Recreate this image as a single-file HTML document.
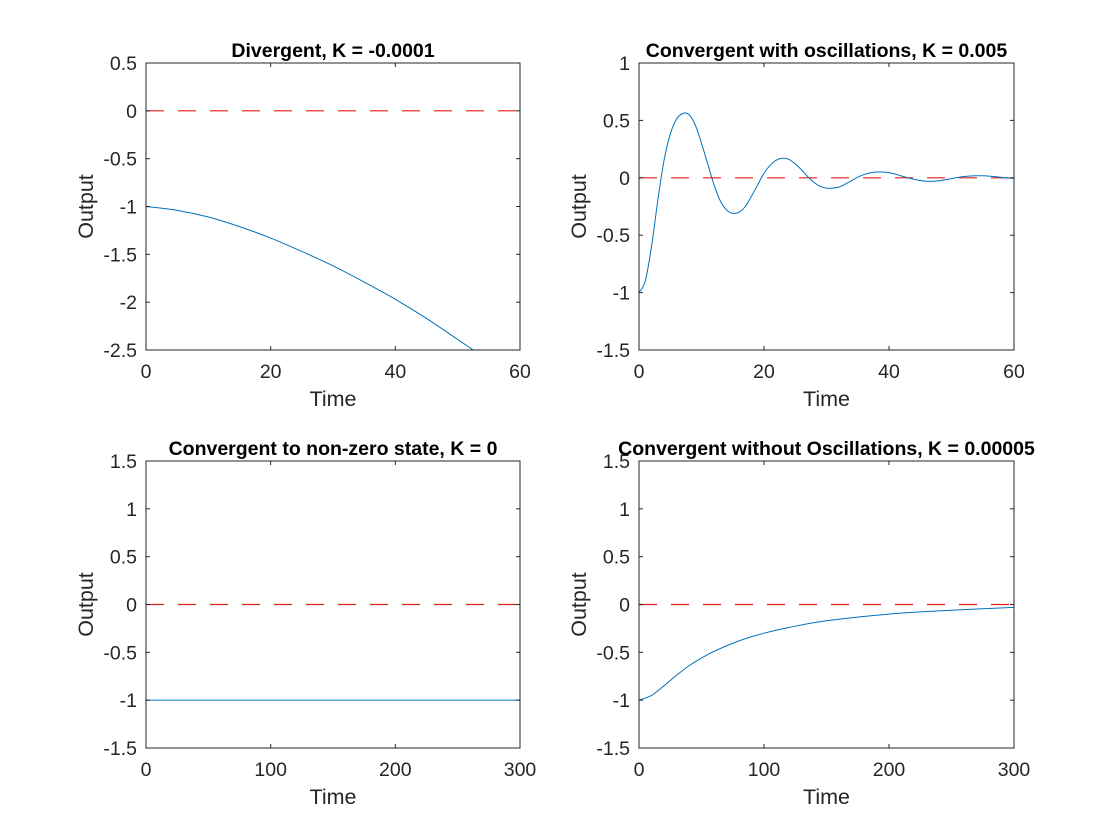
<!DOCTYPE html>
<html><head><meta charset="utf-8"><style>
html,body{margin:0;padding:0;background:#fff;}
svg{display:block;font-family:"Liberation Sans",Arial,sans-serif;}
</style></head><body>
<svg id="fig" width="1120" height="840" viewBox="0 0 1120 840" xmlns="http://www.w3.org/2000/svg"></svg>
<script>
// Panel 1: Divergent
const divT = [0,5,10,15,20,25,30,35,40,45,50,52.5];
const divY = [-1,-1.04,-1.11,-1.21,-1.33,-1.47,-1.62,-1.79,-1.97,-2.17,-2.39,-2.5];
// Panel 2: oscillations
const oscT = [0,1,2,3,4,5,6,7,8,9,10,11,12,13,14,15,16,17,18,19,20,21,22,23,24,25,26,27,28,29,30,31,32,33,34,35,36,37,38,39,40,41,42,43,44,45,46,47,48,49,50,51,52,53,54,55,56,57,58,59,60];
const oscY = [-1,-0.9,-0.6,-0.2,0.15,0.38,0.51,0.56,0.55,0.46,0.3,0.12,-0.06,-0.2,-0.28,-0.31,-0.3,-0.25,-0.16,-0.06,0.04,0.11,0.155,0.17,0.16,0.12,0.07,0.01,-0.04,-0.075,-0.09,-0.09,-0.08,-0.055,-0.025,0.005,0.028,0.043,0.05,0.05,0.045,0.032,0.016,0.001,-0.013,-0.024,-0.03,-0.03,-0.026,-0.017,-0.007,0.003,0.011,0.016,0.018,0.018,0.015,0.01,0.004,-0.002,-0.006];
// Panel 3: constant
const conT = [0,300];
const conY = [-1,-1];
// Panel 4: no oscillations
const noT = [0,10,20,30,40,50,60,80,100,120,150,200,250,300];
const noY = [-1,-0.95,-0.85,-0.74,-0.64,-0.56,-0.49,-0.38,-0.3,-0.24,-0.17,-0.1,-0.06,-0.03];

const xTicks60 = [0,20,40,60];
const xTicks300 = [0,100,200,300];
const yTicksA = [-2.5,-2,-1.5,-1,-0.5,0,0.5];
const yTicksB = [-1.5,-1,-0.5,0,0.5,1];
const yTicksC = [-1.5,-1,-0.5,0,0.5,1,1.5];

const NS="http://www.w3.org/2000/svg";
const svg=document.getElementById('fig');
function mk(tag,attrs,parent){const e=document.createElementNS(NS,tag);for(const k in attrs)e.setAttribute(k,attrs[k]);(parent||svg).appendChild(e);return e;}
function fmt(v){return String(v);}

function panel(key,box,xmin,xmax,ymin,ymax,xt,yt,title,T,Y){
  const g=mk('g',{});
  
  
  const [x0,y0,x1,y1]=box;
  const sx=v=>x0+(v-xmin)/(xmax-xmin)*(x1-x0);
  const sy=v=>y1-(v-ymin)/(ymax-ymin)*(y1-y0);
  const z=mk('line',{x1:x0,x2:x1,y1:sy(0),y2:sy(0),stroke:'#e0201b','stroke-width':1.2,'stroke-dasharray':'18 14'},g);
  
  
  let d='';
  for(let i=0;i<T.length;i++){
    const px=sx(T[i]),py=sy(Y[i]);
    if(i===0){d+='M'+px+' '+py;continue;}
    const p0=[sx(T[Math.max(0,i-2)]),sy(Y[Math.max(0,i-2)])];
    const p1=[sx(T[i-1]),sy(Y[i-1])];
    const p2=[px,py];
    const p3=[sx(T[Math.min(T.length-1,i+1)]),sy(Y[Math.min(T.length-1,i+1)])];
    const c1=[p1[0]+(p2[0]-p0[0])/6,p1[1]+(p2[1]-p0[1])/6];
    const c2=[p2[0]-(p3[0]-p1[0])/6,p2[1]-(p3[1]-p1[1])/6];
    d+=' C'+c1[0]+' '+c1[1]+' '+c2[0]+' '+c2[1]+' '+p2[0]+' '+p2[1];
  }
  const clip=mk('clipPath',{id:'c'+key},g);
  mk('rect',{x:x0,y:y0,width:x1-x0,height:y1-y0},clip);
  const s=mk('path',{d:d,fill:'none',stroke:'#0072bd','stroke-width':1,'clip-path':'url(#c'+key+')'},g);
  
  
  const r=mk('rect',{x:x0,y:y0,width:x1-x0,height:y1-y0,fill:'none',stroke:'#262626','stroke-width':1},g);
  
  
  xt.forEach(v=>{
    const x=sx(v);
    mk('line',{x1:x,x2:x,y1:y1,y2:y1-4,stroke:'#262626'},g);
    mk('line',{x1:x,x2:x,y1:y0,y2:y0+4,stroke:'#262626'},g);
    const t=mk('text',{x:x,y:y1+28,'text-anchor':'middle','font-size':19.5,fill:'#262626'},g);
    t.textContent=fmt(v);
    
    
  });
  yt.forEach(v=>{
    const y=sy(v);
    mk('line',{x1:x0,x2:x0+4,y1:y,y2:y,stroke:'#262626'},g);
    mk('line',{x1:x1,x2:x1-4,y1:y,y2:y,stroke:'#262626'},g);
    const t=mk('text',{x:x0-9,y:y+7,'text-anchor':'end','font-size':19.5,fill:'#262626'},g);
    t.textContent=fmt(v);
    
    
  });
  const xl=mk('text',{x:(x0+x1)/2,y:y1+56,'text-anchor':'middle','font-size':21.5,fill:'#262626'},g);
  xl.textContent='Time';
  
  
  const yx=x0-53, yy=(y0+y1)/2;
  const yl=mk('text',{x:yx,y:yy,'text-anchor':'middle','font-size':21.5,fill:'#262626',transform:'rotate(-90 '+yx+' '+yy+')'},g);
  yl.textContent='Output';
  
  
  const tt=mk('text',{x:(x0+x1)/2,y:y0-6,'text-anchor':'middle','font-size':19.5,'font-weight':'bold',fill:'#000'},g);
  tt.textContent=title;
  
  
}
panel('divergent',[146,63,520,350],0,60,-2.5,0.5,xTicks60,yTicksA,'Divergent, K = -0.0001',divT,divY);
panel('oscillating',[639,63,1014,350],0,60,-1.5,1,xTicks60,yTicksB,'Convergent with oscillations, K = 0.005',oscT,oscY);
panel('nonzero',[146,461,520,748],0,300,-1.5,1.5,xTicks300,yTicksC,'Convergent to non-zero state, K = 0',conT,conY);
panel('no-oscillation',[639,461,1014,748],0,300,-1.5,1.5,xTicks300,yTicksC,'Convergent without Oscillations, K = 0.00005',noT,noY);
</script>
</body></html>
